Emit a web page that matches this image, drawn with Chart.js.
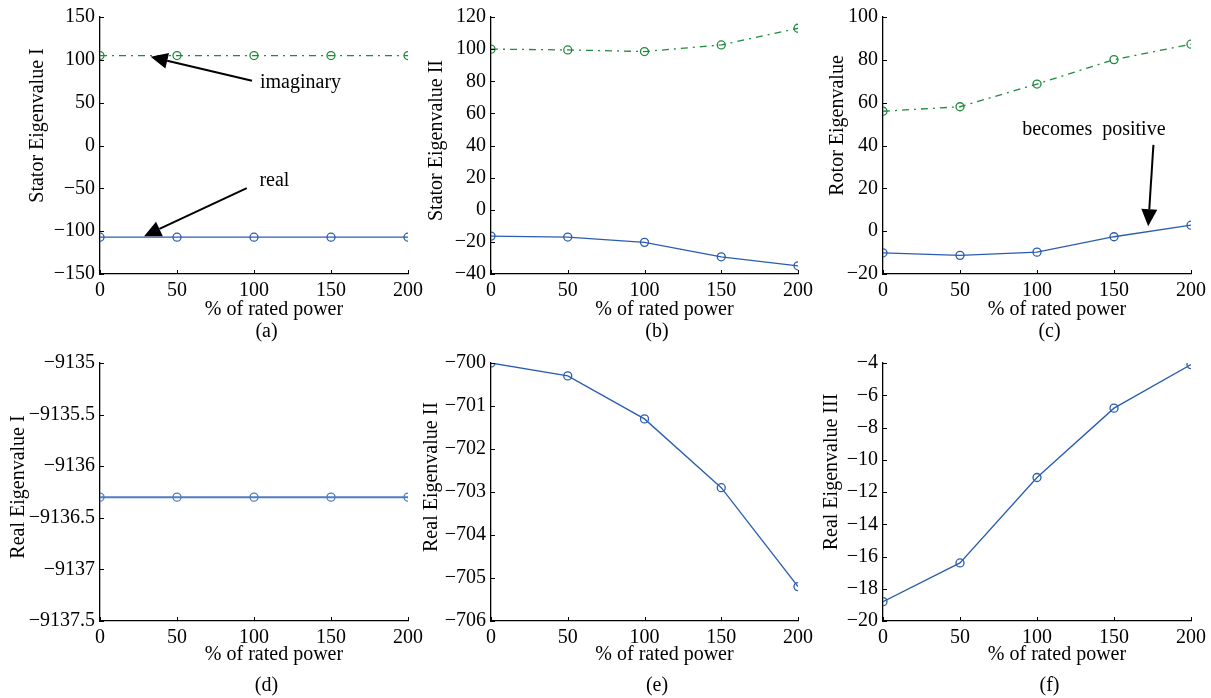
<!DOCTYPE html>
<html>
<head>
<meta charset="utf-8">
<script src="https://cdn.jsdelivr.net/npm/chart.js@4/dist/chart.umd.min.js"></script>
<style>
  html, body { margin: 0; padding: 0; background: #fff; }
  body { width: 1211px; height: 698px; position: relative; overflow: hidden; }
  canvas { position: absolute; }
</style>
</head>
<body>
<canvas id="pa" width="440" height="345" style="left:0;top:0"></canvas>
<canvas id="pb" width="440" height="345" style="left:390px;top:0"></canvas>
<canvas id="pc" width="429" height="345" style="left:782px;top:0"></canvas>
<canvas id="pd" width="440" height="353" style="left:0;top:345px"></canvas>
<canvas id="pe" width="440" height="353" style="left:390px;top:345px"></canvas>
<canvas id="pf" width="429" height="353" style="left:782px;top:345px"></canvas>
<script>
// data
var power = [0, 50, 100, 150, 200];

var statorIImag = [105, 105, 105, 105, 105];
var statorIReal = [-107, -107, -107, -107, -107];
var statorIIImag = [100, 99.5, 98.5, 102.6, 113];
var statorIIReal = [-16.4, -17, -20.3, -29.3, -34.9];
var rotorImag = [56, 58.1, 68.7, 80.1, 87.3];
var rotorReal = [-10.1, -11.3, -9.8, -2.6, 2.8];
var realI = [-9136.3, -9136.3, -9136.3, -9136.3, -9136.3];
var realII = [-700.0, -700.3, -701.3, -702.9, -705.2];
var realIII = [-18.8, -16.4, -11.1, -6.8, -4.1];

var FONT = "'Liberation Serif', 'Times New Roman', serif";
var BLUE = "#2a5db0";
var GREEN = "#1f8a3c";

function pts(ys) {
    return power.map(function (x, i) { return { x: x, y: ys[i] }; });
}

function minus(v) {
    return String(v).replace("-", "\u2212");
}

// en spaces, used to nudge centred titles off-centre like the original
function sp(n) {
    return new Array(n + 1).join("\u2002");
}

// inward tick marks, MATLAB style
var innerTicks = {
    id: "innerTicks",
    afterDatasetsDraw: function (chart) {
        var ctx = chart.ctx, xs = chart.scales.x, ys = chart.scales.y;
        ctx.save();
        ctx.strokeStyle = "#000";
        ctx.lineWidth = 1;
        ctx.beginPath();
        xs.ticks.forEach(function (t, i) {
            var px = Math.round(xs.getPixelForTick(i)) + 0.5;
            ctx.moveTo(px, xs.top);
            ctx.lineTo(px, xs.top - 4);
        });
        ys.ticks.forEach(function (t, i) {
            var py = Math.round(ys.getPixelForTick(i)) + 0.5;
            ctx.moveTo(ys.right, py);
            ctx.lineTo(ys.right + 4, py);
        });
        ctx.stroke();
        ctx.restore();
    }
};

// arrows and text notes, in data units
var notes = {
    id: "notes",
    afterDraw: function (chart, args, opts) {
        var ctx = chart.ctx, xs = chart.scales.x, ys = chart.scales.y;
        ctx.save();
        ctx.fillStyle = "#000";
        ctx.strokeStyle = "#000";
        (opts.texts || []).forEach(function (t) {
            ctx.font = "20px " + FONT;
            ctx.textAlign = "left";
            ctx.textBaseline = "alphabetic";
            ctx.fillText(t.text, xs.getPixelForValue(t.x), ys.getPixelForValue(t.y));
        });
        (opts.arrows || []).forEach(function (a) {
            var x1 = xs.getPixelForValue(a.from[0]), y1 = ys.getPixelForValue(a.from[1]);
            var x2 = xs.getPixelForValue(a.to[0]), y2 = ys.getPixelForValue(a.to[1]);
            var ang = Math.atan2(y2 - y1, x2 - x1);
            var len = 17, half = 8;
            var bx = x2 - len * Math.cos(ang), by = y2 - len * Math.sin(ang);
            ctx.lineWidth = 2;
            ctx.beginPath();
            ctx.moveTo(x1, y1);
            ctx.lineTo(bx, by);
            ctx.stroke();
            ctx.beginPath();
            ctx.moveTo(x2, y2);
            ctx.lineTo(bx + half * Math.sin(ang), by - half * Math.cos(ang));
            ctx.lineTo(bx - half * Math.sin(ang), by + half * Math.cos(ang));
            ctx.closePath();
            ctx.fill();
        });
        ctx.restore();
    }
};

function lineSet(ys, color, dashed, width) {
    return {
        data: pts(ys),
        borderColor: color,
        backgroundColor: "rgba(0,0,0,0)",
        borderWidth: width || 1.3,
        borderDash: dashed ? [7, 5, 2, 5] : [],
        pointStyle: "circle",
        pointRadius: 4,
        pointBorderWidth: 1.3,
        pointBorderColor: color,
        pointBackgroundColor: "rgba(0,0,0,0)",
        tension: 0
    };
}

function panel(id, cfg) {
    var top = cfg.row === 1;
    new Chart(document.getElementById(id), {
        type: "line",
        data: { datasets: cfg.datasets },
        plugins: [innerTicks, notes],
        options: {
            responsive: false,
            animation: false,
            devicePixelRatio: 1,
            layout: {
                padding: { left: 0, right: cfg.right, top: top ? 16 : 18, bottom: top ? 1 : 0 }
            },
            plugins: {
                legend: { display: false },
                tooltip: { enabled: false },
                title: {
                    display: true,
                    position: "bottom",
                    fullSize: false,
                    text: sp(2) + " " + cfg.label,
                    color: "#000",
                    padding: 0,
                    font: { family: FONT, size: 20, weight: "normal", lineHeight: 1.2 }
                },
                notes: { texts: cfg.texts || [], arrows: cfg.arrows || [] }
            },
            scales: {
                x: {
                    type: "linear",
                    min: 0,
                    max: 200,
                    afterFit: function (s) { s.height = top ? 46 : 53; },
                    border: { display: true, color: "#000", width: 1.3 },
                    grid: { display: true, drawOnChartArea: false, drawTicks: false },
                    ticks: {
                        stepSize: 50,
                        padding: 5,
                        color: "#000",
                        maxRotation: 0,
                        font: { family: FONT, size: 20 }
                    },
                    title: {
                        display: true,
                        text: sp(4) + "% of rated power",
                        color: "#000",
                        padding: { top: 0, bottom: top ? 0 : 9 },
                        font: { family: FONT, size: 20, lineHeight: 1 }
                    }
                },
                y: {
                    type: "linear",
                    min: cfg.min,
                    max: cfg.max,
                    afterFit: function (s) { s.width = cfg.axisW; },
                    border: { display: true, color: "#000", width: 1.3 },
                    grid: { display: true, drawOnChartArea: false, drawTicks: false },
                    ticks: {
                        stepSize: cfg.step,
                        padding: 5,
                        color: "#000",
                        font: { family: FONT, size: 20 },
                        callback: function (v) { return minus(v); }
                    },
                    title: {
                        display: true,
                        text: sp(cfg.lift) + cfg.ytitle,
                        color: "#000",
                        padding: { top: cfg.titlePad, bottom: 0 },
                        font: { family: FONT, size: 20, lineHeight: 1.2 }
                    }
                }
            }
        }
    });
}

panel("pa", {
    row: 1, label: "(a)", right: 32, axisW: 100, titlePad: 26, lift: 4,
    min: -150, max: 150, step: 50, ytitle: "Stator Eigenvalue I",
    datasets: [lineSet(statorIImag, GREEN, true), lineSet(statorIReal, BLUE, false)],
    texts: [{ text: "imaginary", x: 103.9, y: 67.1 }, { text: "real", x: 103.5, y: -47.3 }],
    arrows: [{ from: [98.7, 75.6], to: [32.9, 103.5] }, { from: [95.3, -49.7], to: [28.6, -105.8] }]
});

panel("pb", {
    row: 1, label: "(b)", right: 32, axisW: 101, titlePad: 35, lift: 1,
    min: -40, max: 120, step: 20, ytitle: "Stator Eigenvalue II",
    datasets: [lineSet(statorIIImag, GREEN, true), lineSet(statorIIReal, BLUE, false)]
});

panel("pc", {
    row: 1, label: "(c)", right: 19, axisW: 101, titlePad: 44, lift: 4,
    min: -20, max: 100, step: 20, ytitle: "Rotor Eigenvalue",
    datasets: [lineSet(rotorImag, GREEN, true), lineSet(rotorReal, BLUE, false)],
    texts: [{ text: "becomes  positive", x: 90.4, y: 44.7 }],
    arrows: [{ from: [175.6, 40.3], to: [172.2, 2.3] }]
});

panel("pd", {
    row: 2, label: "(d)", right: 32, axisW: 100, titlePad: 7, lift: 1,
    min: -9137.5, max: -9135, step: 0.5, ytitle: "Real Eigenvalue I",
    datasets: [lineSet(realI, "#4f7cc2", false, 2)]
});

panel("pe", {
    row: 2, label: "(e)", right: 32, axisW: 101, titlePad: 30, lift: 3,
    min: -706, max: -700, step: 1, ytitle: "Real Eigenvalue II",
    datasets: [lineSet(realII, BLUE, false)]
});

panel("pf", {
    row: 2, label: "(f)", right: 19, axisW: 101, titlePad: 38, lift: 4,
    min: -20, max: -4, step: 2, ytitle: "Real Eigenvalue III",
    datasets: [lineSet(realIII, BLUE, false)]
});
</script>
</body>
</html>
